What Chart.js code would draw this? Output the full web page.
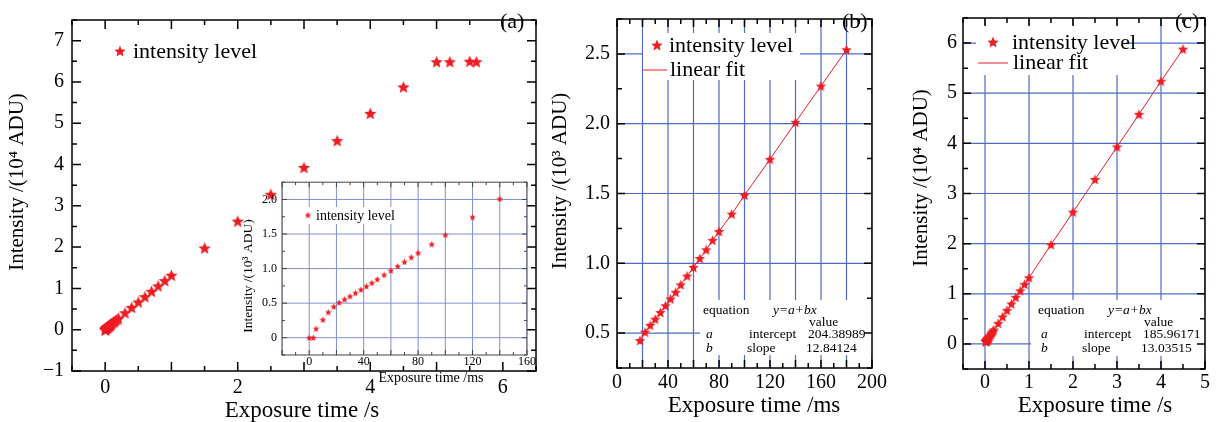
<!DOCTYPE html>
<html>
<head>
<meta charset="utf-8">
<script src="https://cdn.jsdelivr.net/npm/chart.js@4.4.1/dist/chart.umd.min.js"></script>
<style>
  body { margin: 0; background: #fff; }
  #wrap { position: relative; width: 1224px; height: 422px; overflow: hidden; }
  canvas { position: absolute; }
</style>
</head>
<body>
<div id="wrap">
  <canvas id="pa" width="545" height="422" style="left:0;top:0"></canvas>
  <canvas id="inset" width="305" height="220" style="left:235px;top:170px"></canvas>
  <canvas id="pb" width="350" height="422" style="left:540px;top:0"></canvas>
  <canvas id="pc" width="329" height="422" style="left:895px;top:0"></canvas>
</div>
<script>
// (a) toutes les mesures : temps en s, intensite en 10^4 ADU
const aTimes = [0, 0.003, 0.005, 0.01, 0.014, 0.018, 0.022, 0.026, 0.03, 0.034, 0.038, 0.042, 0.046, 0.05, 0.055,
  0.06, 0.065, 0.07, 0.075, 0.08, 0.09, 0.1, 0.12, 0.14, 0.16, 0.18, 0.2, 0.3, 0.4, 0.5, 0.6, 0.7, 0.8, 0.9, 1.0,
  1.5, 2.0, 2.5, 3.0, 3.5, 4.0, 4.5, 5.0, 5.2, 5.5, 5.6];
const aLevels = [0, 0, 0.013, 0.026, 0.037, 0.045, 0.051, 0.056, 0.060, 0.065, 0.070, 0.075, 0.079, 0.085, 0.091,
  0.097, 0.104, 0.110, 0.117, 0.123, 0.135, 0.149, 0.175, 0.201, 0.227, 0.253, 0.28, 0.41, 0.54, 0.67, 0.80, 0.93, 1.06, 1.19, 1.32,
  1.98, 2.63, 3.28, 3.93, 4.58, 5.24, 5.88, 6.49, 6.49, 6.50, 6.49];

// encart : temps en ms, intensite en 10^3 ADU
const insetTimes = [0, 3, 5, 10, 14, 18, 22, 26, 30, 34, 38, 42, 46, 50, 55, 60, 65, 70, 75, 80, 90, 100, 120, 140];
const insetLevels = [0, 0, 0.13, 0.26, 0.37, 0.45, 0.51, 0.556, 0.60, 0.648, 0.696, 0.745, 0.793, 0.846, 0.909,
  0.971, 1.035, 1.097, 1.165, 1.228, 1.353, 1.488, 1.745, 2.01];

// (b) partie lineaire en ms, 10^3 ADU
const bTimes = [18, 22, 26, 30, 34, 38, 42, 46, 50, 55, 60, 65, 70, 75, 80, 90, 100, 120, 140, 160, 180];
const bLevels = [0.447, 0.507, 0.556, 0.600, 0.648, 0.696, 0.745, 0.793, 0.846, 0.909, 0.971, 1.035, 1.097, 1.165,
  1.228, 1.353, 1.488, 1.745, 2.010, 2.270, 2.530];
const bFit = ['204.38989', '12.84124'];

// (c) partie lineaire en s, 10^4 ADU
const cTimes = [0.018, 0.022, 0.026, 0.03, 0.034, 0.038, 0.042, 0.046, 0.05, 0.055, 0.06, 0.065, 0.07, 0.075, 0.08,
  0.09, 0.1, 0.12, 0.14, 0.16, 0.18, 0.2, 0.3, 0.4, 0.5, 0.6, 0.7, 0.8, 0.9, 1.0, 1.5, 2.0, 2.5, 3.0, 3.5, 4.0, 4.5];
const cLevels = [0.045, 0.051, 0.056, 0.060, 0.065, 0.070, 0.075, 0.079, 0.085, 0.091, 0.097, 0.104, 0.110, 0.117,
  0.123, 0.135, 0.149, 0.175, 0.201, 0.227, 0.253, 0.28, 0.41, 0.54, 0.67, 0.80, 0.93, 1.06, 1.19, 1.32,
  1.98, 2.63, 3.28, 3.93, 4.58, 5.24, 5.88];
const cFit = ['185.96171', '13.03515'];

// graduations
const aTicksX = [0, 2, 4, 6];
const aTicksY = [-1, 0, 1, 2, 3, 4, 5, 6, 7];
const insetTicksX = [0, 40, 80, 120, 160];
const insetTicksY = [0, 0.5, 1, 1.5, 2];
const bTicksX = [0, 40, 80, 120, 160, 200];
const bTicksY = [0.5, 1, 1.5, 2, 2.5];
const cTicksX = [0, 1, 2, 3, 4, 5];
const cTicksY = [0, 1, 2, 3, 4, 5, 6];

const SERIF = '"Liberation Serif", "DejaVu Serif", serif';
const RED = 'rgb(236,30,36)';
const GRID = 'rgb(78,106,200)';

Chart.defaults.font.family = SERIF;
Chart.defaults.color = '#000';

function star(size) {
  const c = document.createElement('canvas');
  c.width = c.height = size;
  const g = c.getContext('2d');
  const r = size / 2;
  g.beginPath();
  for (let i = 0; i < 10; i++) {
    const ang = -Math.PI / 2 + i * Math.PI / 5;
    const rr = i % 2 ? r * 0.45 : r;
    g.lineTo(r + rr * Math.cos(ang), r * 1.1 + rr * Math.sin(ang));
  }
  g.closePath();
  g.fillStyle = RED;
  g.fill();
  return c;
}

const pts = (xs, ys) => xs.map((x, i) => ({ x: x, y: ys[i] }));
const dec1 = v => v === 0 ? '0' : v.toFixed(1);

function axis(a, dir) {
  return {
    type: 'linear', min: a.min, max: a.max,
    grid: { display: false, drawTicks: false },
    border: { display: false },
    afterBuildTicks: s => { s.ticks = a.labels.map(v => ({ value: v })); },
    afterFit: s => { if (dir === 'x') s.height = a.size; else s.width = a.size; },
    ticks: { padding: a.pad, font: { size: a.font }, color: '#000', autoSkip: false, maxRotation: 0,
      callback: a.fmt || (v => (v < 0 ? '\u2212' + (-v) : String(v))) }
  };
}

function steps(from, to, step) {
  const out = [];
  const start = Math.ceil(from / step - 1e-9) * step;
  for (let v = start; v <= to + 1e-9; v += step) out.push(Math.round(v * 1e6) / 1e6);
  return out;
}

// cadre, grille, graduations internes, legendes et textes
const panel = {
  id: 'panel',
  beforeDatasetsDraw(chart, args, o) {
    const { ctx, chartArea: a, scales: { x, y } } = chart;
    ctx.save();
    ctx.beginPath();
    ctx.rect(a.left, a.top, a.width, a.height);
    ctx.clip();
    if (o.fill) {
      ctx.fillStyle = '#fff';
      ctx.fillRect(a.left, a.top, a.width, a.height);
    }
    if (o.grid) {
      ctx.strokeStyle = o.grid.color;
      ctx.lineWidth = o.grid.width || 1.2;
      steps(x.min, x.max, o.grid.x).forEach(v => {
        const p = x.getPixelForValue(v);
        ctx.beginPath(); ctx.moveTo(p, a.top); ctx.lineTo(p, a.bottom); ctx.stroke();
      });
      steps(y.min, y.max, o.grid.y).forEach(v => {
        const p = y.getPixelForValue(v);
        ctx.beginPath(); ctx.moveTo(a.left, p); ctx.lineTo(a.right, p); ctx.stroke();
      });
    }
    ctx.fillStyle = '#fff';
    (o.masks || []).forEach(m => ctx.fillRect(m[0], m[1], m[2] - m[0], m[3] - m[1]));
    ctx.restore();
  },
  afterDraw(chart, args, o) {
    const { ctx, chartArea: a, scales: { x, y } } = chart;
    ctx.save();
    ctx.strokeStyle = o.frameColor || '#000';
    ctx.lineWidth = o.frameWidth || 1.5;
    ctx.strokeRect(a.left, a.top, a.width, a.height);
    const [L, l] = o.tickLen;
    steps(x.min, x.max, o.ticks.x[1]).forEach(v => {
      const major = Math.abs(v / o.ticks.x[0] - Math.round(v / o.ticks.x[0])) < 1e-6;
      const len = major ? L : l;
      const p = x.getPixelForValue(v);
      ctx.beginPath();
      ctx.moveTo(p, a.bottom); ctx.lineTo(p, a.bottom - len);
      ctx.moveTo(p, a.top); ctx.lineTo(p, a.top + len);
      ctx.stroke();
    });
    steps(y.min, y.max, o.ticks.y[1]).forEach(v => {
      const major = Math.abs(v / o.ticks.y[0] - Math.round(v / o.ticks.y[0])) < 1e-6;
      const len = major ? L : l;
      const p = y.getPixelForValue(v);
      ctx.beginPath();
      ctx.moveTo(a.left, p); ctx.lineTo(a.left + len, p);
      ctx.moveTo(a.right, p); ctx.lineTo(a.right - len, p);
      ctx.stroke();
    });
    (o.legend || []).forEach(it => {
      if (it.img) ctx.drawImage(it.img, it.x - it.img.width / 2, it.y - it.img.height / 2);
      if (it.line) {
        ctx.strokeStyle = RED; ctx.lineWidth = 1;
        ctx.beginPath(); ctx.moveTo(it.line[0], it.y); ctx.lineTo(it.line[1], it.y); ctx.stroke();
      }
    });
    ctx.fillStyle = '#000';
    ctx.textBaseline = 'middle';
    (o.texts || []).forEach(t => {
      ctx.save();
      ctx.font = (t.italic ? 'italic ' : '') + t.size + 'px ' + SERIF;
      ctx.textAlign = t.align || 'left';
      ctx.translate(t.x, t.y);
      if (t.rot) ctx.rotate(t.rot);
      ctx.fillText(t.t, 0, 0);
      ctx.restore();
    });
    ctx.restore();
  }
};

function makeChart(id, cfg) {
  return new Chart(document.getElementById(id), {
    type: 'scatter',
    data: { datasets: cfg.datasets },
    options: {
      responsive: false,
      animation: false,
      events: [],
      layout: { padding: cfg.pad },
      plugins: { legend: { display: false }, tooltip: { enabled: false }, panel: cfg.panel },
      scales: { x: axis(cfg.x, 'x'), y: axis(cfg.y, 'y') }
    },
    plugins: [panel]
  });
}

function tableTexts(x0, vals) {
  const s = 13.5;
  return [
    { t: 'equation', x: x0, y: 310, size: s },
    { t: 'y=a+bx', x: x0 + 70, y: 310, size: s, italic: true },
    { t: 'value', x: x0 + 106, y: 322, size: s },
    { t: 'a', x: x0 + 3, y: 334, size: s, italic: true },
    { t: 'intercept', x: x0 + 46, y: 334, size: s },
    { t: vals[0], x: x0 + 105, y: 334, size: s },
    { t: 'b', x: x0 + 3, y: 348, size: s, italic: true },
    { t: 'slope', x: x0 + 44, y: 348, size: s },
    { t: vals[1], x: x0 + 103, y: 348, size: s }
  ];
}

// (a)
makeChart('pa', {
  pad: { left: 0, top: 7, right: 9, bottom: 0 },
  datasets: [{ label: 'intensity level', data: pts(aTimes, aLevels), pointStyle: star(13), showLine: false }],
  x: { min: -0.5, max: 6.5, labels: aTicksX, size: 51, pad: 5, font: 20 },
  y: { min: -1, max: 7.5, labels: aTicksY, size: 72, pad: 8, font: 20 },
  panel: {
    ticks: { x: [1, 0.5], y: [1, 0.5] }, tickLen: [9, 5],
    legend: [{ img: star(12), x: 120, y: 51 }],
    texts: [
      { t: 'intensity level', x: 133, y: 52, size: 22 },
      { t: '(a)', x: 500, y: 22, size: 22 },
      { t: 'Intensity /(10\u2074 ADU)', x: 17, y: 182, size: 21, align: 'center', rot: -Math.PI / 2 },
      { t: 'Exposure time /s', x: 302, y: 411, size: 23, align: 'center' }
    ]
  }
});

// encart de (a)
makeChart('inset', {
  pad: { left: 0, top: 12, right: 13, bottom: 0 },
  datasets: [{ label: 'intensity level', data: pts(insetTimes, insetLevels), pointStyle: star(7), showLine: false }],
  x: { min: -20, max: 160, labels: insetTicksX, size: 35, pad: 0, font: 12 },
  y: { min: -0.25, max: 2.25, labels: insetTicksY, size: 47, pad: 5, font: 12, fmt: dec1 },
  panel: {
    fill: true,
    grid: { color: 'rgb(128,144,212)', x: 20, y: 0.5, width: 1 },
    masks: [[70, 37, 165, 54]],
    ticks: { x: [20, 10], y: [0.5, 0.25] }, tickLen: [5, 3],
    frameColor: '#444', frameWidth: 1,
    legend: [{ img: star(7), x: 73, y: 45 }],
    texts: [
      { t: 'intensity level', x: 81, y: 46, size: 14 },
      { t: 'Intensity /(10\u00b3 ADU)', x: 13, y: 106, size: 13.5, align: 'center', rot: -Math.PI / 2 },
      { t: 'Exposure time /ms', x: 196, y: 208, size: 14, align: 'center' }
    ]
  }
});

// (b)
makeChart('pb', {
  pad: { left: 0, top: 8, right: 17, bottom: 0 },
  datasets: [
    { label: 'intensity level', data: pts(bTimes, bLevels), pointStyle: star(11), showLine: false },
    { label: 'linear fit', data: pts(bTimes, bLevels), showLine: true, pointRadius: 0, borderColor: RED, borderWidth: 1 }
  ],
  x: { min: 0, max: 200, labels: bTicksX, size: 54, pad: 3, font: 20 },
  y: { min: 0.25, max: 2.75, labels: bTicksY, size: 77, pad: 7, font: 20, fmt: dec1 },
  panel: {
    grid: { color: GRID, x: 20, y: 0.5 },
    masks: [[103, 33, 260, 80], [160, 300, 333, 355]],
    ticks: { x: [20, 10], y: [0.5, 0.25] }, tickLen: [8, 5],
    legend: [{ img: star(12), x: 117, y: 45 }, { line: [103, 127], y: 70 }],
    texts: [
      { t: 'intensity level', x: 129, y: 46, size: 22 },
      { t: 'linear fit', x: 130, y: 70, size: 22 },
      { t: '(b)', x: 302, y: 22, size: 22 },
      { t: 'Intensity /(10\u00b3 ADU)', x: 20, y: 181, size: 21, align: 'center', rot: -Math.PI / 2 },
      { t: 'Exposure time /ms', x: 214, y: 406, size: 23, align: 'center' }
    ].concat(tableTexts(163, bFit))
  }
});

// (c)
makeChart('pc', {
  pad: { left: 0, top: 7, right: 19, bottom: 0 },
  datasets: [
    { label: 'intensity level', data: pts(cTimes, cLevels), pointStyle: star(11), showLine: false },
    { label: 'linear fit', data: pts(cTimes, cLevels), showLine: true, pointRadius: 0, borderColor: RED, borderWidth: 1 }
  ],
  x: { min: -0.5, max: 5, labels: cTicksX, size: 53, pad: 2, font: 20 },
  y: { min: -0.5, max: 6.5, labels: cTicksY, size: 68, pad: 6, font: 20 },
  panel: {
    grid: { color: GRID, x: 1, y: 1 },
    masks: [[81, 25, 231, 75], [136, 300, 310, 356]],
    ticks: { x: [1, 0.5], y: [1, 0.5] }, tickLen: [8, 5],
    legend: [{ img: star(12), x: 98, y: 42 }, { line: [83, 113], y: 63 }],
    texts: [
      { t: 'intensity level', x: 117, y: 43, size: 22 },
      { t: 'linear fit', x: 118, y: 63, size: 22 },
      { t: '(c)', x: 280, y: 22, size: 22 },
      { t: 'Intensity /(10\u2074 ADU)', x: 26, y: 178, size: 21, align: 'center', rot: -Math.PI / 2 },
      { t: 'Exposure time /s', x: 200, y: 406, size: 23, align: 'center' }
    ].concat(tableTexts(143, cFit))
  }
});
</script>
</body>
</html>
